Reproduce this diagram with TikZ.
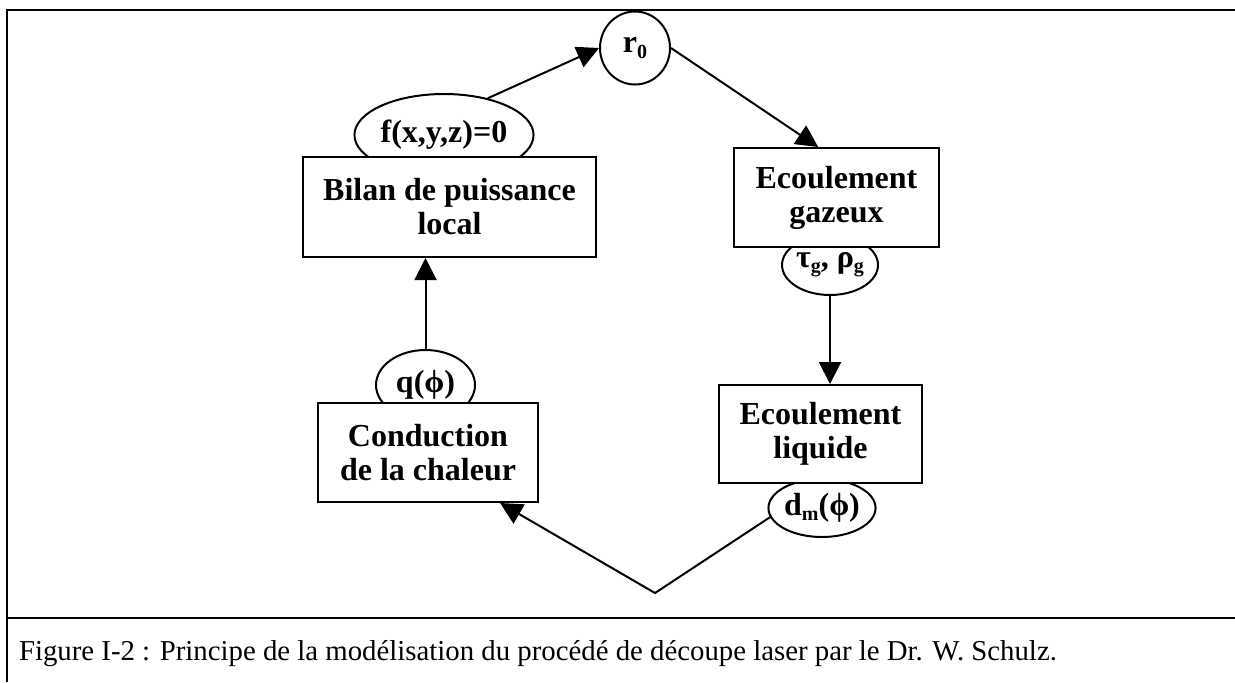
\documentclass[tikz,border=0pt]{standalone}
\usepackage{fontspec}
\setmainfont{Liberation Serif}
\usepackage{tikz}
\usetikzlibrary{shapes.geometric,arrows.meta}
\newcommand{\idx}[1]{\raisebox{-0.35ex}{\fontsize{10}{10}\selectfont #1}}
\tikzstyle{bloc}=[rectangle, draw, fill=white, line width=1pt, align=center, inner sep=0pt, font=\bfseries\fontsize{16}{17}\selectfont]
\tikzstyle{bulle}=[ellipse, draw, fill=white, line width=1pt, inner sep=0pt, font=\bfseries\fontsize{16}{17}\selectfont]
\tikzstyle{fleche}=[-{Triangle[length=11pt,width=11pt]}, line width=1pt]
\tikzstyle{cadre}=[line width=1pt]

\begin{document}
\begin{tikzpicture}[x=0.5pt,y=-0.5pt]
		   \useasboundingbox (0,0) rectangle (1235,682);
		   \begin{scope}
			   \draw[cadre] (1235,10) -- (7,10) -- (7,682);
			   \draw[cadre] (7,618) -- (1235,618);
			   \node (legende) at (12,660)[anchor=base west, font=\fontsize{14.4}{17}\selectfont] {Figure I-2 : Principe de la modélisation du procédé de découpe laser par le Dr. W. Schulz.};
		   \end{scope}
		   \begin{scope}
			   \node (f) at (444,135)[bulle, minimum width=80.5pt, minimum height=41pt] {f(x,y,z)=0};
			   \node (tau) at (830,265)[bulle, minimum width=48pt, minimum height=30pt] {τ\idx{g}, ρ\idx{g}};
			   \node (q) at (425.5,385)[bulle, minimum width=49.5pt, minimum height=35pt] {q(ϕ)};
			   \node (dm) at (822,508)[bulle, minimum width=50pt, minimum height=29pt] {d\idx{m}(ϕ)};
			   \node (r0) at (635,48)[bulle, minimum width=35pt, minimum height=36.5pt] {r\idx{0}};
		   \end{scope}
		   \begin{scope}
			   \node (bilan) at (449.5,207)[bloc, minimum width=146.5pt, minimum height=50pt] {Bilan de puissance\\local};
			   \node (gazeux) at (836.5,197.5)[bloc, minimum width=102.5pt, minimum height=49.5pt] {Ecoulement\\gazeux};
			   \node (liquide) at (820.5,434)[bloc, minimum width=101.5pt, minimum height=49pt] {Ecoulement\\liquide};
			   \node (cond) at (428,452.5)[bloc, minimum width=110pt, minimum height=49.5pt] {Conduction\\de la chaleur};
			   \coordinate (v) at (655,593);
		   \end{scope}
		   \begin{scope}
			   \path [fleche] (f.40) edge (r0.west);
			   \path [fleche] (r0.east) edge (gazeux.110);
			   \path [fleche] (tau.south) edge (tau.south |- liquide.north);
			   \path [fleche] (q.north) edge (q.north |- bilan.south);
			   \draw [fleche] (dm.190) -- (v) -- (cond.-35);
		   \end{scope}
	   \end{tikzpicture}
\end{document}
